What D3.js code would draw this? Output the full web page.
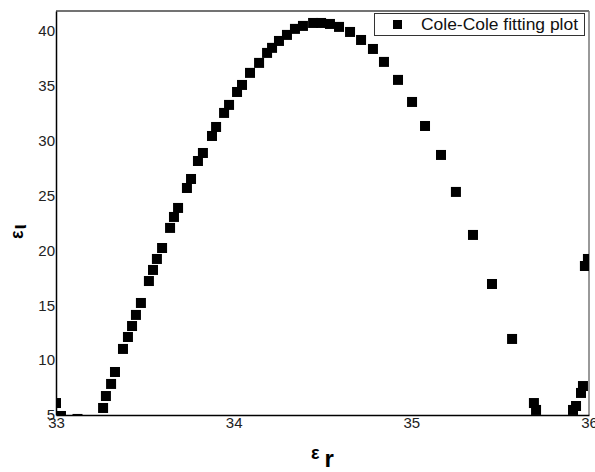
<!DOCTYPE html>
<html>
<head>
<meta charset="utf-8">
<script src="https://cdn.jsdelivr.net/npm/d3@7"></script>
<style>
  body { margin: 0; background: #fff; }
  svg { display: block; font-family: "Liberation Sans", Arial, sans-serif; }
</style>
</head>
<body>
<svg id="chart" width="595" height="472"></svg>
<script>
// Cole-Cole 数据点 (eps_r, eps_i)
const epsR = [33.000, 33.028, 33.121, 33.265, 33.281, 33.310, 33.332, 33.377, 33.405, 33.428,
  33.450, 33.478, 33.523, 33.546, 33.568, 33.597, 33.642, 33.664, 33.687, 33.737,
  33.760, 33.799, 33.827, 33.878, 33.901, 33.946, 33.974, 34.019, 34.047, 34.092,
  34.143, 34.188, 34.216, 34.255, 34.300, 34.345, 34.390, 34.447, 34.492, 34.542,
  34.593, 34.655, 34.717, 34.784, 34.846, 34.925, 35.004, 35.077, 35.167, 35.251,
  35.347, 35.454, 35.567, 35.690, 35.702, 35.910, 35.927, 35.955, 35.966, 35.977, 35.994];
const epsI = [6.09, 4.91, 4.64, 5.64, 6.73, 7.83, 8.92, 11.02, 12.11, 13.11,
  14.12, 15.21, 17.21, 18.22, 19.22, 20.22, 22.05, 23.05, 23.87, 25.69,
  26.51, 28.15, 28.88, 30.43, 31.25, 32.53, 33.26, 34.44, 35.08, 36.18,
  37.09, 38.00, 38.46, 39.09, 39.64, 40.19, 40.46, 40.73, 40.73, 40.64,
  40.37, 39.91, 39.18, 38.36, 37.18, 35.54, 33.53, 31.34, 28.70, 25.33,
  21.41, 16.94, 11.93, 6.09, 5.46, 5.46, 5.82, 7.01, 7.64, 18.58, 19.22];
const xTicks = [33, 34, 35, 36];
const yTicks = [5, 10, 15, 20, 25, 30, 35, 40];
const legendLabel = "Cole-Cole fitting plot";

const svg = d3.select("#chart");
const plotL = 56, plotR = 589, plotT = 11, plotB = 415;
const x = d3.scaleLinear().domain([33, 36]).range([plotL, plotR]);
const y = d3.scaleLinear().domain([5, 41.82]).range([plotB, plotT]);
const size = 10; // 方块边长 px

svg.append("defs").append("clipPath").attr("id", "plotClip")
  .append("rect").attr("x", plotL).attr("y", plotT)
  .attr("width", plotR - plotL).attr("height", plotB - plotT);

// 边框: 上右为灰色, 左下为黑色
svg.append("line").attr("x1", plotL).attr("x2", plotR).attr("y1", plotT).attr("y2", plotT)
  .attr("stroke", "#444").attr("stroke-width", 1.5);
svg.append("line").attr("x1", plotR).attr("x2", plotR).attr("y1", plotT).attr("y2", plotB)
  .attr("stroke", "#777").attr("stroke-width", 1.5);

// 数据点
svg.append("g").attr("clip-path", "url(#plotClip)")
  .selectAll("rect")
  .data(epsR.map((d, i) => [d, epsI[i]]))
  .join("rect")
  .attr("x", d => x(d[0]) - size / 2)
  .attr("y", d => y(d[1]) - size / 2)
  .attr("width", size)
  .attr("height", size)
  .attr("fill", "#000");

// 坐标轴
const xAxis = svg.append("g").attr("transform", `translate(0,${plotB})`)
  .call(d3.axisBottom(x).tickValues(xTicks).tickFormat(d3.format("d")).tickSize(0).tickPadding(2));
const yAxis = svg.append("g").attr("transform", `translate(${plotL},0)`)
  .call(d3.axisLeft(y).tickValues(yTicks).tickFormat(d3.format("d")).tickSize(0).tickPadding(1));
[xAxis, yAxis].forEach(g => {
  g.select(".domain").attr("stroke", "#000").attr("stroke-width", 1.5);
  g.selectAll("text").attr("font-size", 15).attr("fill", "#222")
    .attr("font-family", "'Liberation Sans', Arial, sans-serif");
});

// 轴标题
const xl = svg.append("text").attr("x", 311).attr("y", 459)
  .attr("font-weight", "bold").attr("fill", "#000");
xl.append("tspan").attr("font-size", 18).text("ε");
xl.append("tspan").attr("font-size", 24).attr("dx", 5).attr("dy", 8).text("r");

const yl = svg.append("text").attr("transform", "translate(23,239) rotate(-90)")
  .attr("font-weight", "bold").attr("fill", "#000");
yl.append("tspan").attr("font-size", 18).text("ε");
yl.append("tspan").attr("font-size", 20).attr("dx", 1).attr("dy", 3).text("ι");

// 图例
const lg = svg.append("g");
lg.append("rect").attr("x", 374.5).attr("y", 13.5).attr("width", 210).attr("height", 22)
  .attr("fill", "#fff").attr("stroke", "#333").attr("stroke-width", 1);
lg.append("rect").attr("x", 393).attr("y", 20).attr("width", 9).attr("height", 9).attr("fill", "#000");
lg.append("text").attr("x", 421).attr("y", 30).attr("font-size", 16).attr("fill", "#111")
  .attr("textLength", 157).attr("lengthAdjust", "spacingAndGlyphs")
  .text(legendLabel);
</script>
</body>
</html>
